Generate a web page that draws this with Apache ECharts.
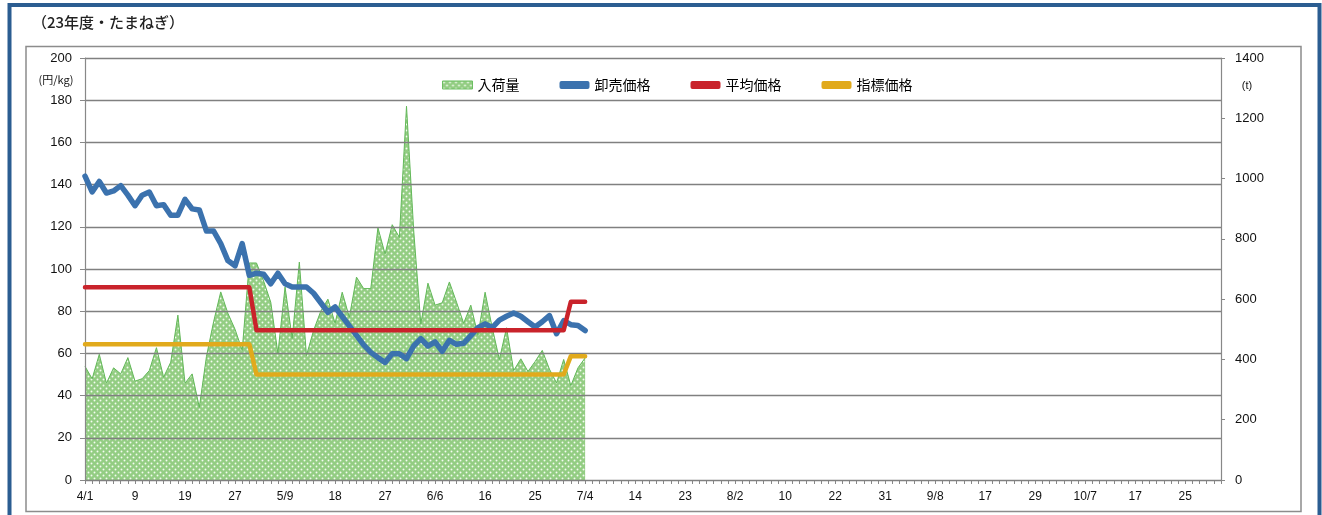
<!DOCTYPE html>
<html><head><meta charset="utf-8">
<script src="https://cdn.jsdelivr.net/npm/echarts@6/dist/echarts.min.js"></script>
<style>html,body{margin:0;padding:0;background:#fff}#c{width:1322px;height:515px}</style>
</head><body><div id="c"></div>
<script>
// ---- data ----
const tickLabels = ['4/1','9','19','27','5/9','18','27','6/6','16','25','7/4','14','23','8/2','10','22','31','9/8','17','29','10/7','17','25'];
const labelStep = 7;        // market days between labelled ticks
const categoryCount = 160;  // market days on the axis
// 入荷量 (t)
const arrivals = [377,336,417,321,372,352,406,328,336,363,
  439,341,391,547,321,352,241,410,525,624,
  553,500,430,720,720,660,590,420,640,470,
  723,413,497,560,600,520,623,540,673,635,
  635,837,750,847,805,1240,830,518,653,580,
  588,657,590,520,580,480,623,505,400,505,
  363,402,360,393,430,368,322,400,313,372,405];
// 卸売価格 (円/kg)
const wholesale = [144,136.5,141.5,136,137,139.5,135,130,135,136.5,
  130,130.5,125.5,125.5,133,128.5,128,118,118,112,
  104,101.5,112,97,98,97.5,93,98,93,91.5,
  91.5,91.5,88.5,84,79.5,82,77.5,73,68.5,64,
  60.5,58,55.7,59.8,59.8,57.5,63.5,67,63.5,65.5,
  61,66.2,64.3,64.8,68.4,72.2,74,72.2,75.8,77.6,
  79.1,77.6,75,72.5,75,77.9,69.3,75.5,73.6,73.2,70.8];
// 平均価格 (円/kg)
const average = [91.3,91.3,91.3,91.3,91.3,91.3,91.3,91.3,91.3,91.3,
  91.3,91.3,91.3,91.3,91.3,91.3,91.3,91.3,91.3,91.3,
  91.3,91.3,91.3,91.3,71,71,71,71,71,71,
  71,71,71,71,71,71,71,71,71,71,
  71,71,71,71,71,71,71,71,71,71,
  71,71,71,71,71,71,71,71,71,71,
  71,71,71,71,71,71,71,71,84.5,84.5,84.5];
// 指標価格 (円/kg)
const indicator = [64.3,64.3,64.3,64.3,64.3,64.3,64.3,64.3,64.3,64.3,
  64.3,64.3,64.3,64.3,64.3,64.3,64.3,64.3,64.3,64.3,
  64.3,64.3,64.3,64.3,50,50,50,50,50,50,
  50,50,50,50,50,50,50,50,50,50,
  50,50,50,50,50,50,50,50,50,50,
  50,50,50,50,50,50,50,50,50,50,
  50,50,50,50,50,50,50,50,58.7,58.7,58.7];

const categories = [];
for (let i = 0; i < categoryCount; i++) {
  categories.push(i % labelStep === 0 ? tickLabels[i / labelStep] : 'd' + i);
}

// dotted green fill
const pc = document.createElement('canvas');
pc.width = 6; pc.height = 6;
const g = pc.getContext('2d');
g.fillStyle = '#93cd83'; g.fillRect(0, 0, 6, 6);
g.fillStyle = '#f4fbf1';
g.beginPath(); g.arc(1.5, 1.5, 0.95, 0, Math.PI * 2); g.fill();
g.beginPath(); g.arc(4.5, 4.5, 0.95, 0, Math.PI * 2); g.fill();
const pattern = { image: pc, repeat: 'repeat' };

const numFont = 'Liberation Sans, Arial, sans-serif';
const jpFont = 'Noto Sans CJK JP, sans-serif';
const BLUE = '#3b72ae', RED = '#c9232b', YEL = '#e1aa1c';

const chart = echarts.init(document.getElementById('c'), null, { renderer: 'canvas' });
chart.setOption({
  animation: false,
  backgroundColor: '#ffffff',
  grid: { left: 85, right: 101, top: 58, bottom: 35 },
  graphic: [
    { type: 'rect', shape: { x: 9.5, y: 5, width: 1310, height: 540 }, style: { fill: 'none', stroke: '#2b5d91', lineWidth: 4 }, z: 0 },
    { type: 'rect', shape: { x: 26, y: 46.5, width: 1275, height: 465 }, style: { fill: 'none', stroke: '#8c8c8c', lineWidth: 1.5 }, z: 0 },
    { type: 'text', left: 32, top: 15, style: { text: '（23年度・たまねぎ）', font: '500 15px ' + jpFont, fill: '#222' } },
    { type: 'text', x: 56, y: 80, style: { text: '(円/kg)', font: '11px ' + jpFont, fill: '#111', align: 'center', verticalAlign: 'middle' } },
    { type: 'text', x: 1247, y: 86, style: { text: '(t)', font: '11px ' + numFont, fill: '#111', align: 'center', verticalAlign: 'middle' } }
  ],
  legend: {
    left: 437, top: 73, itemWidth: 30, itemHeight: 8, itemGap: 40,
    textStyle: { fontSize: 14, color: '#000', fontFamily: jpFont },
    data: [
      { name: '入荷量', icon: 'rect', itemStyle: { color: pattern, borderColor: '#6cbf62', borderWidth: 1 } },
      { name: '卸売価格', icon: 'roundRect', itemStyle: { color: BLUE } },
      { name: '平均価格', icon: 'roundRect', itemStyle: { color: RED } },
      { name: '指標価格', icon: 'roundRect', itemStyle: { color: YEL } }
    ]
  },
  xAxis: {
    type: 'category', data: categories, boundaryGap: false,
    axisLine: { show: true, lineStyle: { color: '#888', width: 1.2 } },
    axisTick: { show: true, interval: 0, length: 4, lineStyle: { color: '#888' } },
    axisLabel: { interval: labelStep - 1, margin: 11, fontSize: 12, color: '#111', fontFamily: numFont },
    splitLine: { show: false }
  },
  yAxis: [
    {
      type: 'value', min: 0, max: 200, interval: 20, z: 2,
      axisLine: { show: true, lineStyle: { color: '#888', width: 1.2 } },
      axisTick: { show: true, length: 5, lineStyle: { color: '#888' } },
      axisLabel: { margin: 13, fontSize: 13, color: '#111', fontFamily: numFont },
      splitLine: { show: true, lineStyle: { color: '#808080', width: 1.4 } }
    },
    {
      type: 'value', min: 0, max: 1400, interval: 200, z: 2,
      axisLine: { show: true, lineStyle: { color: '#888', width: 1.2 } },
      axisTick: { show: true, length: 4, lineStyle: { color: '#888' } },
      axisLabel: { margin: 14, fontSize: 13, color: '#111', fontFamily: numFont, formatter: v => String(v) },
      splitLine: { show: false }
    }
  ],
  series: [
    { name: '入荷量', type: 'line', yAxisIndex: 1, data: arrivals, symbol: 'none', z: 1,
      lineStyle: { color: '#62b858', width: 1 }, itemStyle: { color: '#93cd83' },
      areaStyle: { color: pattern, opacity: 1 } },
    { name: '卸売価格', type: 'line', yAxisIndex: 0, data: wholesale, symbol: 'none', z: 3,
      lineStyle: { color: BLUE, width: 5.5, cap: 'round', join: 'round' }, itemStyle: { color: BLUE } },
    { name: '平均価格', type: 'line', yAxisIndex: 0, data: average, symbol: 'none', z: 4,
      lineStyle: { color: RED, width: 4.5, cap: 'round', join: 'round' }, itemStyle: { color: RED } },
    { name: '指標価格', type: 'line', yAxisIndex: 0, data: indicator, symbol: 'none', z: 5,
      lineStyle: { color: YEL, width: 4.5, cap: 'round', join: 'round' }, itemStyle: { color: YEL } }
  ]
});
</script>
</body></html>
